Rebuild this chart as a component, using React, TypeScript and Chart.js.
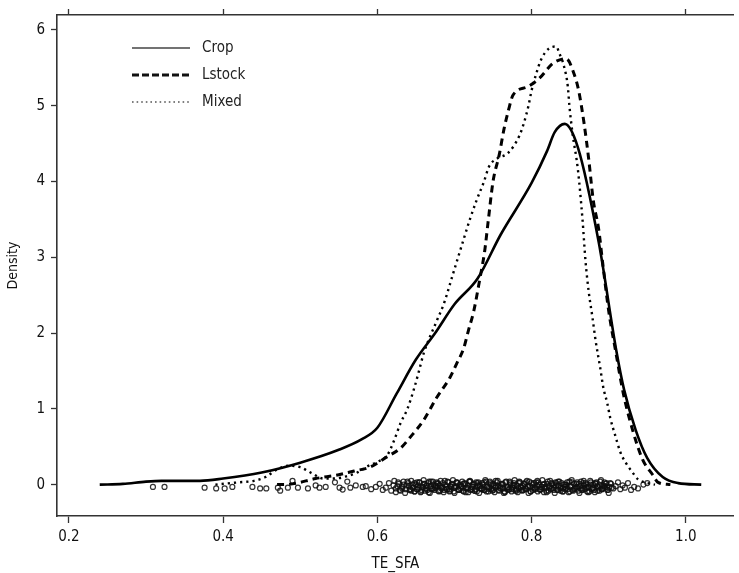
import React, { useEffect, useRef } from "react";
import { Chart, registerables } from "chart.js";

Chart.register(...registerables);

const FONT = "'Liberation Sans Narrow', 'Arial Narrow', 'DejaVu Sans Condensed', sans-serif";

const SERIES_NAMES = ["Crop", "Lstock", "Mixed"];
const X_TICKS = [0.2, 0.4, 0.6, 0.8, 1.0];
const Y_TICKS = [0, 1, 2, 3, 4, 5, 6];
const X_TITLE = "TE_SFA";
const Y_TITLE = "Density";

const CROP_X = [0.24, 0.27, 0.30, 0.32, 0.34, 0.37, 0.40, 0.45, 0.50, 0.55, 0.58, 0.60, 0.625, 0.65, 0.675, 0.70, 0.73, 0.76, 0.80, 0.82, 0.83, 0.843, 0.86, 0.887, 0.91, 0.92, 0.935, 0.95, 0.97, 0.99, 1.02];
const CROP_Y = [0, 0.01, 0.04, 0.05, 0.05, 0.05, 0.08, 0.16, 0.29, 0.46, 0.6, 0.75, 1.2, 1.65, 2.0, 2.38, 2.72, 3.3, 3.98, 4.4, 4.65, 4.76, 4.45, 3.2, 1.76, 1.25, 0.72, 0.35, 0.1, 0.02, 0];

const LSTOCK_X = [0.47, 0.49, 0.52, 0.55, 0.57, 0.59, 0.613, 0.63, 0.643, 0.66, 0.677, 0.694, 0.703, 0.712, 0.718, 0.725, 0.733, 0.739, 0.744, 0.75, 0.758, 0.764, 0.77, 0.776, 0.795, 0.81, 0.828, 0.845, 0.855, 0.861, 0.868, 0.874, 0.88, 0.887, 0.892, 0.9, 0.909, 0.919, 0.931, 0.944, 0.957, 0.964, 0.98];
const LSTOCK_Y = [0, 0.01, 0.08, 0.13, 0.18, 0.23, 0.37, 0.48, 0.63, 0.85, 1.15, 1.41, 1.6, 1.8, 2.03, 2.29, 2.72, 3.07, 3.5, 4.0, 4.35, 4.68, 4.94, 5.14, 5.25, 5.36, 5.56, 5.62, 5.42, 5.2, 4.77, 4.3, 3.75, 3.37, 2.94, 2.29, 1.76, 1.2, 0.72, 0.33, 0.13, 0.03, 0];

const MIXED_X = [0.39, 0.42, 0.44, 0.455, 0.47, 0.485, 0.5, 0.515, 0.53, 0.545, 0.56, 0.574, 0.587, 0.6, 0.613, 0.622, 0.63, 0.639, 0.648, 0.654, 0.66, 0.677, 0.686, 0.699, 0.712, 0.72, 0.729, 0.738, 0.745, 0.755, 0.77, 0.784, 0.79, 0.796, 0.8, 0.806, 0.812, 0.822, 0.832, 0.836, 0.842, 0.847, 0.849, 0.853, 0.86, 0.866, 0.87, 0.874, 0.879, 0.883, 0.889, 0.893, 0.898, 0.902, 0.909, 0.915, 0.922, 0.931, 0.938, 0.947, 0.96];
const MIXED_Y = [0, 0.03, 0.05, 0.1, 0.2, 0.25, 0.23, 0.15, 0.08, 0.08, 0.11, 0.16, 0.24, 0.3, 0.39, 0.59, 0.81, 1.0, 1.28, 1.5, 1.73, 2.16, 2.38, 2.81, 3.24, 3.5, 3.76, 3.99, 4.2, 4.3, 4.38, 4.6, 4.77, 5.0, 5.2, 5.42, 5.6, 5.75, 5.78, 5.69, 5.52, 5.25, 5.0, 4.64, 4.16, 3.5, 2.94, 2.55, 2.2, 1.9, 1.54, 1.28, 1.08, 0.88, 0.63, 0.43, 0.29, 0.16, 0.07, 0.03, 0];

// rug observations (x, jittered y) — sparse tail and first pass of the dense band
const RUG_X = [0.309, 0.324, 0.376, 0.391, 0.402, 0.412, 0.438, 0.448, 0.456, 0.471, 0.474, 0.484, 0.49, 0.497, 0.51, 0.52, 0.525, 0.533, 0.545, 0.551, 0.555, 0.561, 0.565, 0.572, 0.581,
  0.585, 0.592, 0.598, 0.603, 0.607, 0.611, 0.615, 0.618, 0.621, 0.624, 0.627, 0.629, 0.632, 0.634, 0.637, 0.639, 0.641, 0.644, 0.646, 0.648, 0.651, 0.653, 0.655, 0.657, 0.659, 0.661, 0.663, 0.665, 0.667, 0.669, 0.671, 0.673, 0.675, 0.677, 0.679, 0.681, 0.683, 0.685, 0.687, 0.689, 0.691, 0.693, 0.695, 0.697, 0.699,
  0.701, 0.703, 0.705, 0.707, 0.709, 0.711, 0.713, 0.715, 0.717, 0.719, 0.721, 0.723, 0.725, 0.727, 0.729, 0.731, 0.733, 0.735, 0.737, 0.739, 0.741, 0.743, 0.745, 0.747, 0.749, 0.751, 0.753, 0.755, 0.757, 0.759, 0.761, 0.763, 0.765, 0.767, 0.769, 0.771, 0.773, 0.775, 0.777, 0.779, 0.781, 0.783, 0.785, 0.787, 0.789, 0.791, 0.793, 0.795, 0.797, 0.799,
  0.801, 0.803, 0.805, 0.807, 0.809, 0.811, 0.813, 0.815, 0.817, 0.819, 0.821, 0.823, 0.825, 0.827, 0.829, 0.831, 0.833, 0.835, 0.837, 0.839, 0.841, 0.843, 0.845, 0.847, 0.849, 0.851, 0.853, 0.855, 0.857, 0.859, 0.861, 0.863, 0.865, 0.867, 0.869, 0.871, 0.873, 0.875, 0.877, 0.879, 0.881, 0.883, 0.885, 0.887, 0.889, 0.891, 0.893, 0.895, 0.897, 0.899,
  0.901, 0.903, 0.906, 0.909, 0.912, 0.915, 0.918, 0.921, 0.925, 0.929, 0.933, 0.938, 0.945, 0.95];
const RUG_Y = [-0.03, -0.03, -0.04, -0.05, -0.05, -0.03, -0.03, -0.05, -0.05, -0.04, -0.08, -0.04, 0.05, -0.04, -0.05, -0.01, -0.04, -0.03, 0.03, -0.04, -0.065, 0.04, -0.04, -0.01, -0.03,
  -0.02, -0.06, -0.03, 0.01, -0.07, -0.04, 0.02, -0.08, -0.01, -0.05, 0.03, -0.07, -0.03, 0.0, -0.06, 0.04, -0.02, -0.08, -0.04, 0.02, -0.06, -0.01, 0.03, -0.09, -0.03, 0.01, -0.05, -0.07, 0.04, -0.02, -0.06, 0.0, -0.04, 0.03, -0.08, -0.01, -0.05, 0.02, -0.07, -0.03, 0.04, -0.06, -0.02, 0.01, -0.09,
  -0.04, 0.03, -0.06, 0.0, -0.03, -0.08, 0.02, -0.05, -0.01, 0.04, -0.07, -0.03, 0.01, -0.06, -0.09, 0.03, -0.02, -0.05, 0.0, -0.07, 0.04, -0.03, -0.06, 0.02, -0.08, -0.01, -0.04, 0.03, -0.07, -0.02, 0.01, -0.05, -0.09, 0.04, -0.03, -0.06, 0.0, -0.04, 0.02, -0.08, -0.01, -0.05, 0.03, -0.07, -0.02, 0.01, -0.06, -0.03, 0.04, -0.09,
  -0.04, 0.02, -0.06, -0.01, 0.03, -0.07, -0.03, 0.0, -0.05, -0.08, 0.04, -0.02, -0.06, 0.01, -0.04, 0.03, -0.07, -0.01, -0.05, 0.02, -0.09, -0.03, 0.0, -0.06, 0.04, -0.02, -0.07, 0.01, -0.04, 0.03, -0.08, -0.02, -0.05, 0.02, -0.06, 0.0, -0.03, -0.09, 0.03, -0.04, -0.07, 0.01, -0.02, -0.05, 0.04, -0.06, -0.01, -0.04, 0.02, -0.07,
  -0.03, 0.01, -0.05, -0.02, 0.03, -0.06, -0.01, -0.04, 0.02, -0.07, -0.03, -0.05, 0.0, 0.02];

// second pass of the dense band of observations
const RUG_DENSE_X = [
  0.622, 0.624, 0.626, 0.628, 0.630, 0.632, 0.634, 0.636, 0.638, 0.640,
  0.642, 0.644, 0.646, 0.648, 0.650, 0.652, 0.654, 0.656, 0.658, 0.660,
  0.662, 0.664, 0.666, 0.668, 0.670, 0.672, 0.674, 0.676, 0.678, 0.680,
  0.682, 0.684, 0.686, 0.688, 0.690, 0.692, 0.694, 0.696, 0.698, 0.700,
  0.702, 0.704, 0.706, 0.708, 0.710, 0.712, 0.714, 0.716, 0.718, 0.720,
  0.722, 0.724, 0.726, 0.728, 0.730, 0.732, 0.734, 0.736, 0.738, 0.740,
  0.742, 0.744, 0.746, 0.748, 0.750, 0.752, 0.754, 0.756, 0.758, 0.760,
  0.762, 0.764, 0.766, 0.768, 0.770, 0.772, 0.774, 0.776, 0.778, 0.780,
  0.782, 0.784, 0.786, 0.788, 0.790, 0.792, 0.794, 0.796, 0.798, 0.800,
  0.802, 0.804, 0.806, 0.808, 0.810, 0.812, 0.814, 0.816, 0.818, 0.820,
  0.822, 0.824, 0.826, 0.828, 0.830, 0.832, 0.834, 0.836, 0.838, 0.840,
  0.842, 0.844, 0.846, 0.848, 0.850, 0.852, 0.854, 0.856, 0.858, 0.860,
  0.862, 0.864, 0.866, 0.868, 0.870, 0.872, 0.874, 0.876, 0.878, 0.880,
  0.882, 0.884, 0.886, 0.888, 0.890, 0.892, 0.894, 0.896, 0.898, 0.900,
  0.902, 0.904];
const RUG_DENSE_Y = [
  0.05, -0.10, -0.02, 0.01, -0.08, -0.05, 0.04, -0.11, -0.01, 0.02,
  -0.07, 0.05, -0.04, -0.09, 0.00, -0.06, 0.03, -0.10, -0.03, 0.06,
  -0.08, -0.01, 0.02, -0.11, -0.05, 0.04, -0.07, -0.02, 0.01, -0.09,
  0.05, -0.04, -0.10, 0.00, -0.06, 0.03, -0.08, -0.03, 0.06, -0.11,
  -0.02, 0.02, -0.07, -0.05, 0.04, -0.09, 0.01, -0.04, -0.10, 0.05,
  -0.06, 0.00, -0.08, 0.03, -0.01, -0.11, -0.05, 0.02, -0.07, 0.06,
  -0.03, -0.09, 0.04, -0.06, 0.01, -0.10, -0.02, 0.05, -0.08, -0.04,
  0.00, -0.11, 0.03, -0.05, -0.07, 0.02, -0.09, -0.01, 0.06, -0.06,
  -0.10, 0.04, -0.03, -0.08, 0.01, -0.05, 0.05, -0.11, -0.02, 0.02,
  -0.07, -0.04, 0.03, -0.09, 0.00, -0.06, 0.06, -0.10, -0.03, 0.01,
  -0.08, 0.05, -0.05, -0.01, -0.11, 0.02, -0.07, 0.04, -0.04, -0.09,
  0.00, -0.06, 0.03, -0.10, -0.02, 0.06, -0.08, -0.05, 0.01, -0.03,
  -0.11, 0.04, -0.07, -0.01, 0.02, -0.09, -0.04, 0.05, -0.06, 0.00,
  -0.10, 0.03, -0.03, -0.08, 0.06, -0.05, -0.02, 0.01, -0.07, -0.11,
  0.02, -0.04];

// third pass: the core of the band
const RUG_CORE_X = [
  0.6425, 0.6455, 0.6485, 0.6515, 0.6545, 0.6575, 0.6605, 0.6635, 0.6665, 0.6695,
  0.6725, 0.6755, 0.6785, 0.6815, 0.6845, 0.6875, 0.6905, 0.6935, 0.6965, 0.6995,
  0.7025, 0.7055, 0.7085, 0.7115, 0.7145, 0.7175, 0.7205, 0.7235, 0.7265, 0.7295,
  0.7325, 0.7355, 0.7385, 0.7415, 0.7445, 0.7475, 0.7505, 0.7535, 0.7565, 0.7595,
  0.7625, 0.7655, 0.7685, 0.7715, 0.7745, 0.7775, 0.7805, 0.7835, 0.7865, 0.7895,
  0.7925, 0.7955, 0.7985, 0.8015, 0.8045, 0.8075, 0.8105, 0.8135, 0.8165, 0.8195,
  0.8225, 0.8255, 0.8285, 0.8315, 0.8345, 0.8375, 0.8405, 0.8435, 0.8465, 0.8495,
  0.8525, 0.8555, 0.8585, 0.8615, 0.8645, 0.8675, 0.8705, 0.8735, 0.8765, 0.8795,
  0.8825, 0.8855, 0.8885, 0.8915, 0.8945, 0.8975];
const RUG_CORE_Y = [
  -0.06, 0.00, -0.09, 0.03, -0.04, -0.07, 0.01, -0.02, -0.10, 0.04,
  -0.05, -0.01, 0.02, -0.08, -0.03, 0.05, -0.06, -0.09, 0.00, -0.04,
  0.03, -0.07, -0.02, 0.01, -0.10, -0.05, 0.04, -0.03, -0.08, 0.02,
  -0.01, -0.06, 0.03, -0.09, -0.04, 0.00, -0.07, 0.05, -0.02, -0.05,
  0.01, -0.10, -0.03, 0.04, -0.06, -0.01, -0.08, 0.02, -0.04, -0.07,
  0.03, -0.02, -0.09, 0.00, -0.05, 0.05, -0.06, -0.03, 0.01, -0.10,
  -0.04, 0.02, -0.07, -0.01, 0.04, -0.08, -0.05, 0.00, -0.02, -0.09,
  0.03, -0.06, -0.03, 0.01, -0.07, 0.05, -0.04, -0.10, 0.00, -0.05,
  0.02, -0.08, -0.01, -0.06, 0.03, -0.03];

const toPoints = (xs: number[], ys: number[]) => xs.map((x, i) => ({ x, y: ys[i] }));

const legendStyles = [
  { width: 1.6, dash: [] as number[], color: "#444" },
  { width: 3, dash: [7, 3], color: "#111" },
  { width: 1.6, dash: [1.6, 3], color: "#555" },
];

const insetLegend = {
  id: "insetLegend",
  afterDraw(chart: any) {
    const ctx = chart.ctx;
    const area = chart.chartArea;
    const x0 = area.left + 75;
    const x1 = area.left + 133;
    const tx = area.left + 145;
    const y0 = area.top + 33;
    const dy = 27;
    ctx.save();
    SERIES_NAMES.forEach((name, i) => {
      const s = legendStyles[i];
      const y = y0 + i * dy;
      ctx.beginPath();
      ctx.lineWidth = s.width;
      ctx.strokeStyle = s.color;
      ctx.setLineDash(s.dash);
      ctx.moveTo(x0, y);
      ctx.lineTo(x1, y);
      ctx.stroke();
      ctx.setLineDash([]);
      ctx.fillStyle = "#222";
      ctx.font = `15px ${FONT}`;
      ctx.textAlign = "left";
      ctx.textBaseline = "middle";
      ctx.fillText(name, tx, y);
    });
    ctx.restore();
  },
};

export default function App() {
  const ref = useRef<HTMLCanvasElement | null>(null);

  useEffect(() => {
    document.body.style.margin = "0";
    const canvas = ref.current;
    if (!canvas) return;
    const axisColor = "#333";
    const rugPoints = toPoints(RUG_X, RUG_Y)
      .concat(toPoints(RUG_DENSE_X, RUG_DENSE_Y))
      .concat(toPoints(RUG_CORE_X, RUG_CORE_Y));
    const chart = new Chart(canvas, {
      type: "line",
      data: {
        datasets: [
          {
            label: SERIES_NAMES[0],
            data: toPoints(CROP_X, CROP_Y),
            borderColor: "#000",
            borderWidth: 2.6,
            pointRadius: 0,
            cubicInterpolationMode: "monotone",
            fill: false,
          },
          {
            label: SERIES_NAMES[1],
            data: toPoints(LSTOCK_X, LSTOCK_Y),
            borderColor: "#000",
            borderWidth: 3,
            borderDash: [7, 5],
            pointRadius: 0,
            cubicInterpolationMode: "monotone",
            fill: false,
          },
          {
            label: SERIES_NAMES[2],
            data: toPoints(MIXED_X, MIXED_Y),
            borderColor: "#000",
            borderWidth: 2.4,
            borderDash: [2.2, 4],
            pointRadius: 0,
            cubicInterpolationMode: "monotone",
            fill: false,
          },
          {
            label: "rug",
            data: rugPoints,
            showLine: false,
            pointRadius: 2.5,
            pointStyle: "circle",
            pointBackgroundColor: "rgba(0,0,0,0)",
            pointBorderColor: "rgba(15,15,15,0.85)",
            pointBorderWidth: 1.2,
          },
        ],
      },
      options: {
        animation: false,
        responsive: false,
        devicePixelRatio: 1,
        layout: { padding: 0 },
        plugins: {
          legend: { display: false },
          tooltip: { enabled: false },
        },
        scales: {
          x: {
            type: "linear",
            position: "bottom",
            min: 0.1846,
            max: 1.0622,
            afterFit: (s: any) => { s.height = 57; },
            afterBuildTicks: (s: any) => { s.ticks = X_TICKS.map((v) => ({ value: v })); },
            border: { display: true, color: axisColor, width: 1.6 },
            grid: { display: true, drawOnChartArea: false, drawTicks: true, tickLength: 7, tickColor: axisColor, tickWidth: 1.3 },
            ticks: {
              color: "#111",
              font: { family: FONT, size: 15 },
              padding: 5,
              maxRotation: 0,
              autoSkip: false,
              callback: (v: any) => Number(v).toFixed(1),
            },
            title: {
              display: true,
              text: X_TITLE,
              color: "#111",
              font: { family: FONT, size: 15 },
              padding: { top: 0, bottom: 0 },
            },
          },
          x2: {
            type: "linear",
            position: "top",
            min: 0.1846,
            max: 1.0622,
            afterFit: (s: any) => { s.height = 11; },
            afterBuildTicks: (s: any) => { s.ticks = X_TICKS.map((v) => ({ value: v })); },
            border: { display: true, color: axisColor, width: 1.6 },
            grid: { display: true, drawOnChartArea: false, drawTicks: true, tickLength: 6, tickColor: axisColor, tickWidth: 1.3 },
            ticks: { display: false },
          },
          y: {
            type: "linear",
            position: "left",
            min: -0.414,
            max: 6.196,
            afterFit: (s: any) => { s.width = 57; },
            afterBuildTicks: (s: any) => { s.ticks = Y_TICKS.map((v) => ({ value: v })); },
            border: { display: true, color: axisColor, width: 1.6 },
            grid: { display: true, drawOnChartArea: false, drawTicks: true, tickLength: 6, tickColor: axisColor, tickWidth: 1.3 },
            ticks: {
              color: "#111",
              font: { family: FONT, size: 15 },
              padding: 6,
              callback: (v: any) => String(v),
            },
            title: {
              display: true,
              text: Y_TITLE,
              color: "#111",
              font: { family: FONT, size: 14 },
              padding: { top: 5, bottom: 0 },
            },
          },
        },
      },
      plugins: [insetLegend],
    } as any);
    return () => chart.destroy();
  }, []);

  return (
    <div style={{ width: 739, height: 573, position: "relative", background: "#fff" }}>
      <canvas ref={ref} width={739} height={573} style={{ display: "block" }} />
    </div>
  );
}
